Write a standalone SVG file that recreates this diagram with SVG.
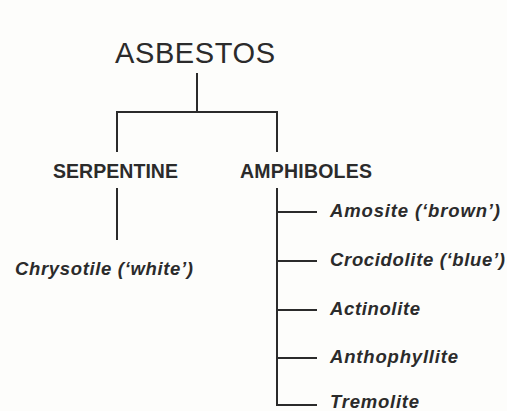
<svg xmlns="http://www.w3.org/2000/svg" width="507" height="411" viewBox="0 0 507 411">
<style>
.t{font-family:"Liberation Sans",Arial,sans-serif;fill:#2b2b2b}
.top{font-size:29px}
.mid{font-size:19.5px;font-weight:bold}
.leaf{font-size:18.5px;font-weight:bold;font-style:italic}
.c{stroke:#2b2b2b;stroke-width:2;fill:none}
</style>
<rect width="507" height="411" fill="#fdfdfb"/>
<g id="connectors">
<path class="c" d="M197 73V112M117 152V112H277V152"/>
<path class="c" d="M117 188V240"/>
<path class="c" d="M277 188V405H317M277 212H317M277 261H317M277 310H317M277 358H317"/>
</g>
<g id="asbestos"><text class="t top" x="115" y="63" textLength="160">ASBESTOS</text></g>
<g id="serpentine"><text class="t mid" x="53" y="178" textLength="125">SERPENTINE</text></g>
<g id="amphiboles"><text class="t mid" x="240" y="178" textLength="132">AMPHIBOLES</text></g>
<g id="chrysotile"><text class="t leaf" x="15" y="275" textLength="178">Chrysotile (‘white’)</text></g>
<g id="amosite"><text class="t leaf" x="330" y="217" textLength="170">Amosite (‘brown’)</text></g>
<g id="crocidolite"><text class="t leaf" x="330" y="266" textLength="175">Crocidolite (‘blue’)</text></g>
<g id="actinolite"><text class="t leaf" x="330" y="315" textLength="90">Actinolite</text></g>
<g id="anthophyllite"><text class="t leaf" x="330" y="363" textLength="128">Anthophyllite</text></g>
<g id="tremolite"><text class="t leaf" x="330" y="408" textLength="89">Tremolite</text></g>
</svg>
